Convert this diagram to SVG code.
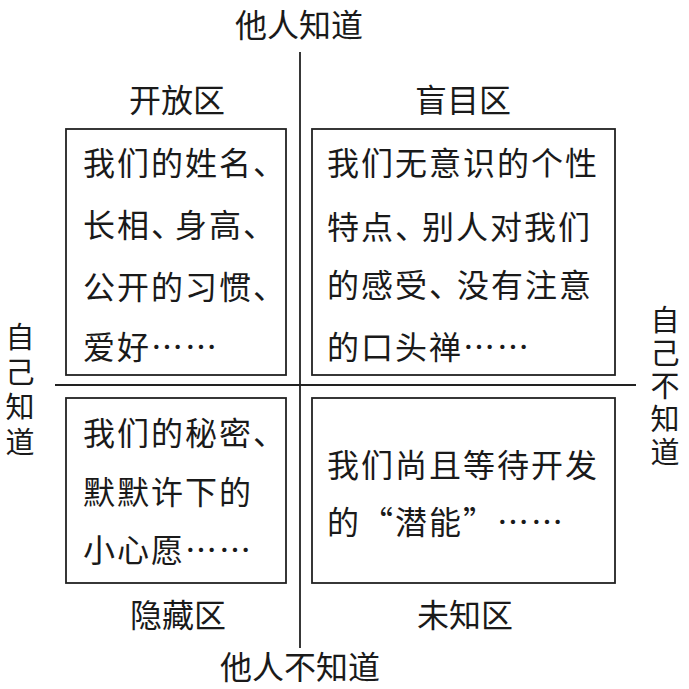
<svg xmlns="http://www.w3.org/2000/svg" width="689" height="689" viewBox="0 0 689 689">
<style>
.t{font-family:"Noto Sans CJK SC","Noto Sans",sans-serif;fill:#1a1a1a;}
.b{font-size:32px;letter-spacing:2px;}
.l{font-size:32px;text-anchor:middle;}
.v{font-size:29px;writing-mode:vertical-rl;}
.box{fill:none;stroke:#222;stroke-width:1.8;}
.ax{stroke:#222;stroke-width:1.8;}
</style>
<rect width="689" height="689" fill="#fff"/>
<g id="axes">
<line class="ax" x1="300" y1="52" x2="300" y2="648"/>
<line class="ax" x1="55" y1="385" x2="636" y2="385"/>
</g>
<g id="top-label"><text class="t l" x="299" y="37">他人知道</text></g>
<g id="bottom-label"><text class="t l" x="300" y="679">他人不知道</text></g>
<g id="left-label"><text class="t v" x="20" y="322" letter-spacing="6">自己知道</text></g>
<g id="right-label"><text class="t v" x="665" y="305" letter-spacing="4">自己不知道</text></g>
<g id="open">
<text class="t l" x="177" y="112">开放区</text>
<rect class="box" x="66" y="129" width="220" height="246"/>
<text class="t b" x="83" y="175">我们的姓名、</text>
<text class="t b" x="83" y="237">长相、<tspan dx="-10">身高、</tspan></text>
<text class="t b" x="83" y="299">公开的习惯、</text>
<text class="t b" x="83" y="359">爱好……</text>
</g>
<g id="blind">
<text class="t l" x="463" y="112">盲目区</text>
<rect class="box" x="312" y="129" width="303" height="246"/>
<text class="t b" x="327" y="175">我们无意识的个性</text>
<text class="t b" x="327" y="239">特点、<tspan dx="-7">别人对我们</tspan></text>
<text class="t b" x="327" y="297">的感受、<tspan dx="-6">没有注意</tspan></text>
<text class="t b" x="327" y="359">的口头禅……</text>
</g>
<g id="hidden">
<rect class="box" x="66" y="398" width="220" height="185"/>
<text class="t b" x="83" y="445">我们的秘密、</text>
<text class="t b" x="83" y="504">默默许下的</text>
<text class="t b" x="83" y="562">小心愿……</text>
<text class="t l" x="178" y="627">隐藏区</text>
</g>
<g id="unknown">
<rect class="box" x="312" y="398" width="303" height="185"/>
<text class="t b" x="327" y="477">我们尚且等待开发</text>
<text class="t b" x="327" y="534">的“潜能”……</text>
<text class="t l" x="465" y="627">未知区</text>
</g>
</svg>
